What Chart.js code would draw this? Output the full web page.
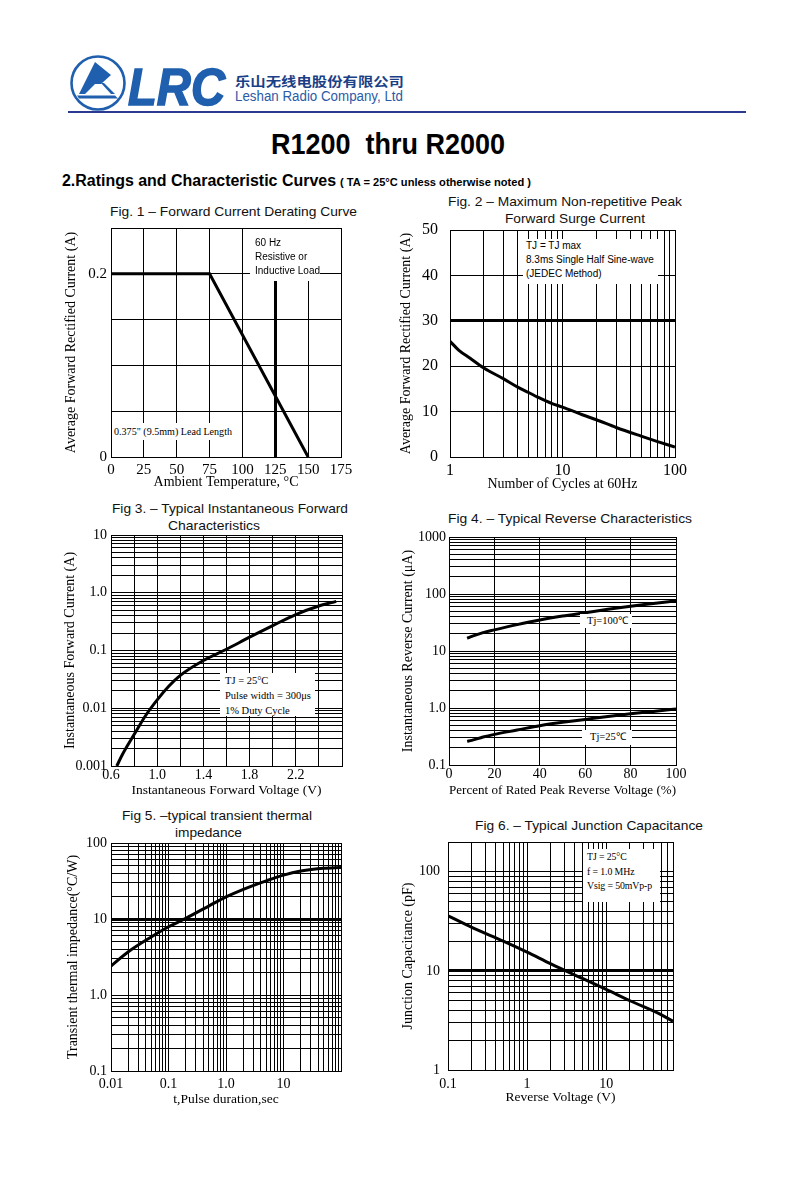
<!DOCTYPE html>
<html><head><meta charset="utf-8">
<script src="https://cdn.jsdelivr.net/npm/chart.js@4.4.1/dist/chart.umd.min.js"></script>
<style>
html,body{margin:0;padding:0;background:#fff;}
body{width:794px;height:1180px;position:relative;overflow:hidden;}
.t{position:absolute;white-space:nowrap;line-height:1;transform-origin:left center;}
.ft{font-family:'Liberation Sans',Arial,sans-serif;font-size:13px;color:#111;}
.box{position:absolute;background:#fff;color:#000;z-index:3;white-space:nowrap;}
.serif{font-family:'Liberation Serif','Times New Roman',serif;font-size:10.5px;}
.sans{font-family:'Liberation Sans',Arial,sans-serif;font-size:10px;}
canvas{position:absolute;z-index:1;}
</style></head><body>

<svg style="position:absolute;left:68px;top:52px;" width="64" height="60" viewBox="0 0 64 60">
  <circle cx="30" cy="31" r="26.5" fill="#fff" stroke="#1f5fae" stroke-width="2.6"/>
  <polygon points="27,10 43,23 33,32 27,32 17,42 11,42" fill="#1f5fae"/>
  <polygon points="33,31 36,31 47,42 43,42" fill="#1f5fae"/>
  <polygon points="9,43.5 47,43.5 50,46.5 11,46.5" fill="#1f5fae"/>
</svg>
<div class="t fit" data-w="97" style="left:128px;top:57px;font:italic 700 52px 'Liberation Sans',Arial,sans-serif;color:#1f5fae;-webkit-text-stroke:1.6px #1f5fae;">LRC</div>
<div class="t fit" data-w="169" style="left:235px;top:71px;font:700 13px 'Noto Sans CJK SC',sans-serif;color:#1b3f86;">乐山无线电股份有限公司</div>
<div class="t fit" data-w="168" style="left:235px;top:88px;font:400 14px 'Liberation Sans',Arial,sans-serif;color:#2b5aa6;">Leshan Radio Company, Ltd</div>
<div style="position:absolute;left:68px;top:111px;width:678px;height:2px;background:#2b3990;"></div>

<div class="t fit" data-w="234" style="left:271px;top:127px;font:700 30px 'Liberation Sans',Arial,sans-serif;color:#000;">R1200&nbsp; thru R2000</div>
<div class="t fit" data-w="274" style="left:62px;top:172px;font:700 16px 'Liberation Sans',Arial,sans-serif;color:#000;">2.Ratings and Characteristic Curves</div>
<div class="t fit" data-w="191" style="left:340px;top:176px;font:700 10.5px 'Liberation Sans',Arial,sans-serif;color:#000;">( TA = 25°C unless otherwise noted )</div>

<div class="t ft fit" data-w="247" style="left:110px;top:204.5px;">Fig. 1 – Forward Current Derating Curve</div>
<div class="t ft fit" data-w="234" style="left:448px;top:194.5px;">Fig. 2 – Maximum Non-repetitive Peak</div>
<div class="t ft fit" data-w="140" style="left:505px;top:211.5px;">Forward Surge Current</div>
<div class="t ft fit" data-w="236" style="left:112px;top:501.5px;">Fig 3. – Typical Instantaneous Forward</div>
<div class="t ft fit" data-w="92" style="left:168px;top:518.5px;">Characteristics</div>
<div class="t ft fit" data-w="244" style="left:448px;top:511.5px;">Fig 4. – Typical Reverse Characteristics</div>
<div class="t ft fit" data-w="190" style="left:122px;top:808.5px;">Fig 5. –typical transient thermal</div>
<div class="t ft fit" data-w="67" style="left:175px;top:825.5px;">impedance</div>
<div class="t ft fit" data-w="228" style="left:475px;top:818.5px;">Fig 6. – Typical Junction Capacitance</div>

<!-- annotation boxes -->
<div class="box sans" style="left:250px;top:229px;width:70px;height:52px;padding:0;">
  <div style="position:absolute;left:5px;top:7px;line-height:14px;">60 Hz<br>Resistive or<br>Inductive Load</div>
</div>
<div class="box serif" style="left:112px;top:423px;width:124px;height:17px;">
  <div class="fit" data-w="118" style="position:absolute;left:2px;top:2px;line-height:13px;font-size:10px;transform-origin:left center;">0.375" (9.5mm) Lead Length</div>
</div>
<div class="box sans" style="left:523px;top:239px;width:135px;height:45px;">
  <div style="position:absolute;left:3px;top:0px;line-height:14px;">TJ = TJ max<br>8.3ms Single Half Sine-wave<br>(JEDEC Method)</div>
</div>
<div class="box serif" style="left:220px;top:673px;width:95px;height:43px;">
  <div style="position:absolute;left:5px;top:0px;line-height:15px;">TJ = 25°C<br>Pulse width = 300μs<br>1% Duty Cycle</div>
</div>
<div class="box serif" style="left:580px;top:614px;width:52px;height:14px;">
  <div style="position:absolute;left:7px;top:1px;line-height:12px;">Tj=100℃</div>
</div>
<div class="box serif" style="left:582px;top:730px;width:50px;height:15px;">
  <div style="position:absolute;left:8px;top:1px;line-height:12px;">Tj=25℃</div>
</div>
<div class="box serif" style="left:583px;top:849px;width:77px;height:53px;font-size:9.8px;">
  <div style="position:absolute;left:4px;top:1px;line-height:14.5px;letter-spacing:-0.1px;">TJ = 25°C<br>f = 1.0 MHz<br>Vsig = 50mVp-p</div>
</div>

<script>
// ---------------- DATA ----------------
// Fig 1 - derating curve
const fig1Temp = [0, 75, 150];
const fig1Current = [0.2, 0.2, 0];
const fig1XGrid = [0, 25, 50, 75, 100, 125, 150, 175];
const fig1XLabels = ['0', '25', '50', '75', '100', '125', '150', '175'];
const fig1YGrid = [0, 0.05, 0.1, 0.15, 0.2, 0.25];
const fig1YLabelVals = [0, 0.2];
const fig1YLabels = ['0', '0.2'];

// Fig 2 - surge current
const fig2Cycles = [1, 1.2, 1.5, 2, 3, 4, 5, 6, 8, 10, 15, 20, 30, 50, 70, 100];
const fig2Current = [25.5, 23.5, 21.8, 19.6, 17.2, 15.4, 14.2, 13.2, 11.8, 11.0, 9.3, 8.2, 6.5, 4.6, 3.4, 2.2];
const fig2XLabelVals = [1, 10, 100];
const fig2XLabels = ['1', '10', '100'];
const fig2YGrid = [0, 10, 20, 30, 40, 50];
const fig2YLabels = ['0', '10', '20', '30', '40', '50'];

// Fig 3 - forward characteristics
const fig3Voltage = [0.65, 0.7, 0.8, 0.9, 1.0, 1.1, 1.2, 1.4, 1.6, 1.8, 2.0, 2.2, 2.4, 2.55];
const fig3Current = [0.001, 0.0016, 0.0035, 0.0075, 0.014, 0.024, 0.037, 0.067, 0.105, 0.17, 0.27, 0.42, 0.59, 0.71];
const fig3XGrid = [0.6, 0.8, 1.0, 1.2, 1.4, 1.6, 1.8, 2.0, 2.2, 2.4, 2.6];
const fig3XLabelVals = [0.6, 1.0, 1.4, 1.8, 2.2];
const fig3XLabels = ['0.6', '1.0', '1.4', '1.8', '2.2'];
const fig3YLabelVals = [0.001, 0.01, 0.1, 1, 10];
const fig3YLabels = ['0.001', '0.01', '0.1', '1.0', '10'];

// Fig 4 - reverse characteristics
const fig4Percent = [8, 10, 15, 20, 30, 40, 50, 60, 70, 80, 90, 100];
const fig4Tj100 = [16.7, 18, 21, 23.5, 29, 35, 41, 47, 54, 61, 68, 76];
const fig4Tj25 = [0.26, 0.27, 0.31, 0.345, 0.41, 0.49, 0.56, 0.63, 0.71, 0.79, 0.87, 0.96];
const fig4XGrid = [0, 20, 40, 60, 80, 100];
const fig4XLabels = ['0', '20', '40', '60', '80', '100'];
const fig4YLabelVals = [0.1, 1, 10, 100, 1000];
const fig4YLabels = ['0.1', '1.0', '10', '100', '1000'];

// Fig 5 - transient thermal impedance
const fig5Time = [0.01, 0.02, 0.05, 0.1, 0.2, 0.5, 1, 2, 5, 10, 20, 50, 100];
const fig5Imped = [2.4, 3.7, 5.8, 7.9, 10.2, 14.8, 19.5, 24.6, 31.8, 37.8, 42.7, 46.5, 47.6];
const fig5XLabelVals = [0.01, 0.1, 1, 10];
const fig5XLabels = ['0.01', '0.1', '1.0', '10'];
const fig5YLabelVals = [0.1, 1, 10, 100];
const fig5YLabels = ['0.1', '1.0', '10', '100'];

// Fig 6 - junction capacitance
const fig6Voltage = [0.1, 0.2, 0.5, 1, 2, 5, 10, 20, 50, 70];
const fig6Cap = [36, 27.5, 20, 15.5, 11.8, 8.4, 6.5, 5.0, 3.6, 3.1];
const fig6XLabelVals = [0.1, 1, 10];
const fig6XLabels = ['0.1', '1', '10'];
const fig6YLabelVals = [1, 10, 100];
const fig6YLabels = ['1', '10', '100'];

// ---------------- HELPERS ----------------
const SERIF = "'Liberation Serif','Times New Roman',serif";
function near(a, b) { return Math.abs(a - b) <= Math.abs(b) * 1e-6 + 1e-12; }
function labeler(vals, texts) {
  return function (v) { for (let i = 0; i < vals.length; i++) if (near(v, vals[i])) return texts[i]; return ''; };
}
// grid lines of a logarithmic axis: 1..9 x 10^k between min and max
function logGrid(min, max) {
  const out = [];
  for (let k = Math.floor(Math.log10(min)); k <= Math.ceil(Math.log10(max)); k++) {
    for (let m = 1; m <= 9; m++) {
      const v = k < 0 ? m / Math.pow(10, -k) : m * Math.pow(10, k);
      if (v >= min * (1 - 1e-9) && v <= max * (1 + 1e-9)) out.push(v);
    }
  }
  return out;
}

function makeChart(cfg) {
  const [pl, pt, pr, pb] = cfg.plot;
  const padT = 26, padR = 26;
  const left = pl - cfg.yW, top = pt - padT;
  const w = cfg.yW + (pr - pl) + padR;
  const h = padT + (pb - pt) + cfg.xH;
  const c = document.createElement('canvas');
  c.width = w; c.height = h;
  c.style.left = left + 'px'; c.style.top = top + 'px';
  c.style.width = w + 'px'; c.style.height = h + 'px';
  document.body.appendChild(c);
  const axis = (a, isX) => ({
    type: a.type, min: a.min, max: a.max, position: isX ? 'bottom' : 'left',
    afterBuildTicks: s => { s.ticks = a.grid.map(v => ({ value: v })); },
    afterFit: s => { if (isX) s.height = cfg.xH; else s.width = cfg.yW; },
    ticks: {
      autoSkip: false, maxRotation: 0, minRotation: 0, padding: a.pad, color: '#000',
      font: { family: SERIF, size: a.tickSize },
      callback: labeler(a.labVals, a.labTexts)
    },
    grid: {
      color: '#000', drawTicks: false,
      lineWidth: ctx => (a.thick !== undefined && ctx.tick && near(ctx.tick.value, a.thick)) ? 3 : 1
    },
    border: { color: '#000', width: 1 },
    title: { display: true, text: a.title, color: '#000', padding: 0, font: { family: SERIF, size: a.titleSize } }
  });
  new Chart(c, {
    type: 'line',
    data: {
      datasets: cfg.series.map(s => ({
        data: s.x.map((x, i) => ({ x: x, y: s.y[i] })),
        borderColor: '#000', borderWidth: 3, pointRadius: 0, fill: false,
        tension: s.smooth ? 0.4 : 0, cubicInterpolationMode: s.smooth ? 'monotone' : 'default'
      }))
    },
    options: {
      responsive: false, animation: false, devicePixelRatio: 1, events: [],
      layout: { padding: { top: padT, right: padR, left: 0, bottom: 0 } },
      plugins: { legend: { display: false }, tooltip: { enabled: false } },
      scales: { x: axis(cfg.x, true), y: axis(cfg.y, false) }
    }
  });
}

// ---------------- CHARTS ----------------
makeChart({
  plot: [111, 228, 341, 457], yW: 48, xH: 34,
  series: [{ x: fig1Temp, y: fig1Current, smooth: false }],
  x: { type: 'linear', min: 0, max: 175, grid: fig1XGrid, labVals: fig1XGrid, labTexts: fig1XLabels, pad: 4, tickSize: 15, title: 'Ambient Temperature, °C', titleSize: 14, thick: 125 },
  y: { type: 'linear', min: 0, max: 0.25, grid: fig1YGrid, labVals: fig1YLabelVals, labTexts: fig1YLabels, pad: 4, tickSize: 15, title: 'Average Forward Rectified Current (A)', titleSize: 14 }
});
makeChart({
  plot: [450, 230, 675, 457], yW: 52, xH: 36,
  series: [{ x: fig2Cycles, y: fig2Current, smooth: true }],
  x: { type: 'logarithmic', min: 1, max: 100, grid: logGrid(1, 100), labVals: fig2XLabelVals, labTexts: fig2XLabels, pad: 4, tickSize: 16, title: 'Number of Cycles at 60Hz', titleSize: 14 },
  y: { type: 'linear', min: 0, max: 50, grid: fig2YGrid, labVals: fig2YGrid, labTexts: fig2YLabels, pad: 12, tickSize: 16, title: 'Average Forward Rectified Current (A)', titleSize: 14, thick: 30 }
});
makeChart({
  plot: [111, 535, 342, 766], yW: 49, xH: 33,
  series: [{ x: fig3Voltage, y: fig3Current, smooth: true }],
  x: { type: 'linear', min: 0.6, max: 2.6, grid: fig3XGrid, labVals: fig3XLabelVals, labTexts: fig3XLabels, pad: 1, tickSize: 14, title: 'Instantaneous Forward Voltage (V)', titleSize: 13.5 },
  y: { type: 'logarithmic', min: 0.001, max: 10, grid: logGrid(0.001, 10), labVals: fig3YLabelVals, labTexts: fig3YLabels, pad: 4, tickSize: 14, title: 'Instantaneous Forward Current (A)', titleSize: 14 }
});
makeChart({
  plot: [449, 537, 676, 765], yW: 49, xH: 34,
  series: [{ x: fig4Percent, y: fig4Tj100, smooth: true }, { x: fig4Percent, y: fig4Tj25, smooth: true }],
  x: { type: 'linear', min: 0, max: 100, grid: fig4XGrid, labVals: fig4XGrid, labTexts: fig4XLabels, pad: 1, tickSize: 14, title: 'Percent of Rated Peak Reverse Voltage (%)', titleSize: 13.5 },
  y: { type: 'logarithmic', min: 0.1, max: 1000, grid: logGrid(0.1, 1000), labVals: fig4YLabelVals, labTexts: fig4YLabels, pad: 3, tickSize: 14, title: 'Instantaneous Reverse Current (μA)', titleSize: 14 }
});
makeChart({
  plot: [111, 843, 341, 1071], yW: 46, xH: 37,
  series: [{ x: fig5Time, y: fig5Imped, smooth: true }],
  x: { type: 'logarithmic', min: 0.01, max: 100, grid: logGrid(0.01, 100), labVals: fig5XLabelVals, labTexts: fig5XLabels, pad: 5, tickSize: 14, title: 't,Pulse duration,sec', titleSize: 13.5 },
  y: { type: 'logarithmic', min: 0.1, max: 100, grid: logGrid(0.1, 100), labVals: fig5YLabelVals, labTexts: fig5YLabels, pad: 4, tickSize: 14, title: 'Transient thermal impedance(°C/W)', titleSize: 14, thick: 10 }
});
makeChart({
  plot: [448, 842, 673, 1070], yW: 48, xH: 36,
  series: [{ x: fig6Voltage, y: fig6Cap, smooth: true }],
  x: { type: 'logarithmic', min: 0.1, max: 70, grid: logGrid(0.1, 70), labVals: fig6XLabelVals, labTexts: fig6XLabels, pad: 6, tickSize: 14, title: 'Reverse Voltage (V)', titleSize: 13.5 },
  y: { type: 'logarithmic', min: 1, max: 200, grid: logGrid(1, 200), labVals: fig6YLabelVals, labTexts: fig6YLabels, pad: 8, tickSize: 14, title: 'Junction Capacitance (pF)', titleSize: 14, thick: 10 }
});

// scale header texts horizontally to the widths seen in the reference
function fitAll() {
  document.querySelectorAll('.fit').forEach(el => {
    el.style.display = 'inline-block';
    el.style.transform = 'none';
    const w = el.getBoundingClientRect().width;
    const t = +el.dataset.w;
    if (w > 0) el.style.transform = 'scaleX(' + (t / w) + ')';
  });
}
fitAll();
if (document.fonts && document.fonts.ready) document.fonts.ready.then(fitAll);
</script>
</body></html>
